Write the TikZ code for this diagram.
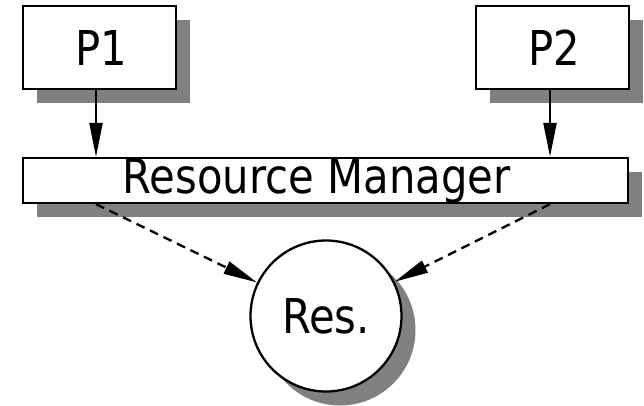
\documentclass[tikz,border=0pt]{standalone}
\usepackage{fontspec}
\setmainfont{DejaVu Sans}[FakeStretch=0.87]
\usetikzlibrary{arrows.meta,shadows}
\definecolor{shadowgray}{HTML}{808080}
\tikzset{
  shade box/.style={draw=black, line width=2.3pt, fill=white, inner sep=0pt,
    drop shadow={shadow xshift=14pt, shadow yshift=-14pt, fill=shadowgray, opacity=1}},
  procbox/.style={shade box, rectangle, minimum width=153pt, minimum height=83pt},
  bigtext/.style={font=\fontsize{48}{50}\selectfont},
  flow/.style={line width=2.3pt, -{Triangle[length=34pt,width=13pt]}},
  request/.style={flow, dash pattern=on 9pt off 6pt},
}
\begin{document}
\begin{tikzpicture}[x=1pt,y=-1pt]
  \useasboundingbox (0,0) rectangle (644,405);
  \fill[white] (0,0) rectangle (644,405);

  % processes
  \node[procbox, bigtext] (P1) at (99.5,47.5) {\hspace*{4pt}P1};
  \node[procbox, bigtext] (P2) at (552.5,47.5) {\hspace*{4pt}P2};

  % manager bar
  \node[shade box, rectangle, minimum width=605pt, minimum height=45pt,
        label={[bigtext, xshift=-9pt]center:Resource Manager}] (RM) at (325.5,180.5) {};

  % shared resource
  \node[shade box, circle, minimum size=151pt, bigtext] (Res) at (326,316) {Res.};

  % requests to the manager
  \draw[flow] ([xshift=-3.5pt]P1.south) -- ([xshift=-3.5pt]P1.south |- RM.north);
  \draw[flow] ([xshift=-2.5pt]P2.south) -- ([xshift=-2.5pt]P2.south |- RM.north);

  % grants to the resource
  \coordinate (g1) at ([xshift=-3.5pt]P1.south |- RM.south);
  \coordinate (g2) at ([xshift=-2.5pt]P2.south |- RM.south);
  \draw[request] (g1) -- (Res);
  \draw[request] (g2) -- (Res);
\end{tikzpicture}
\end{document}
